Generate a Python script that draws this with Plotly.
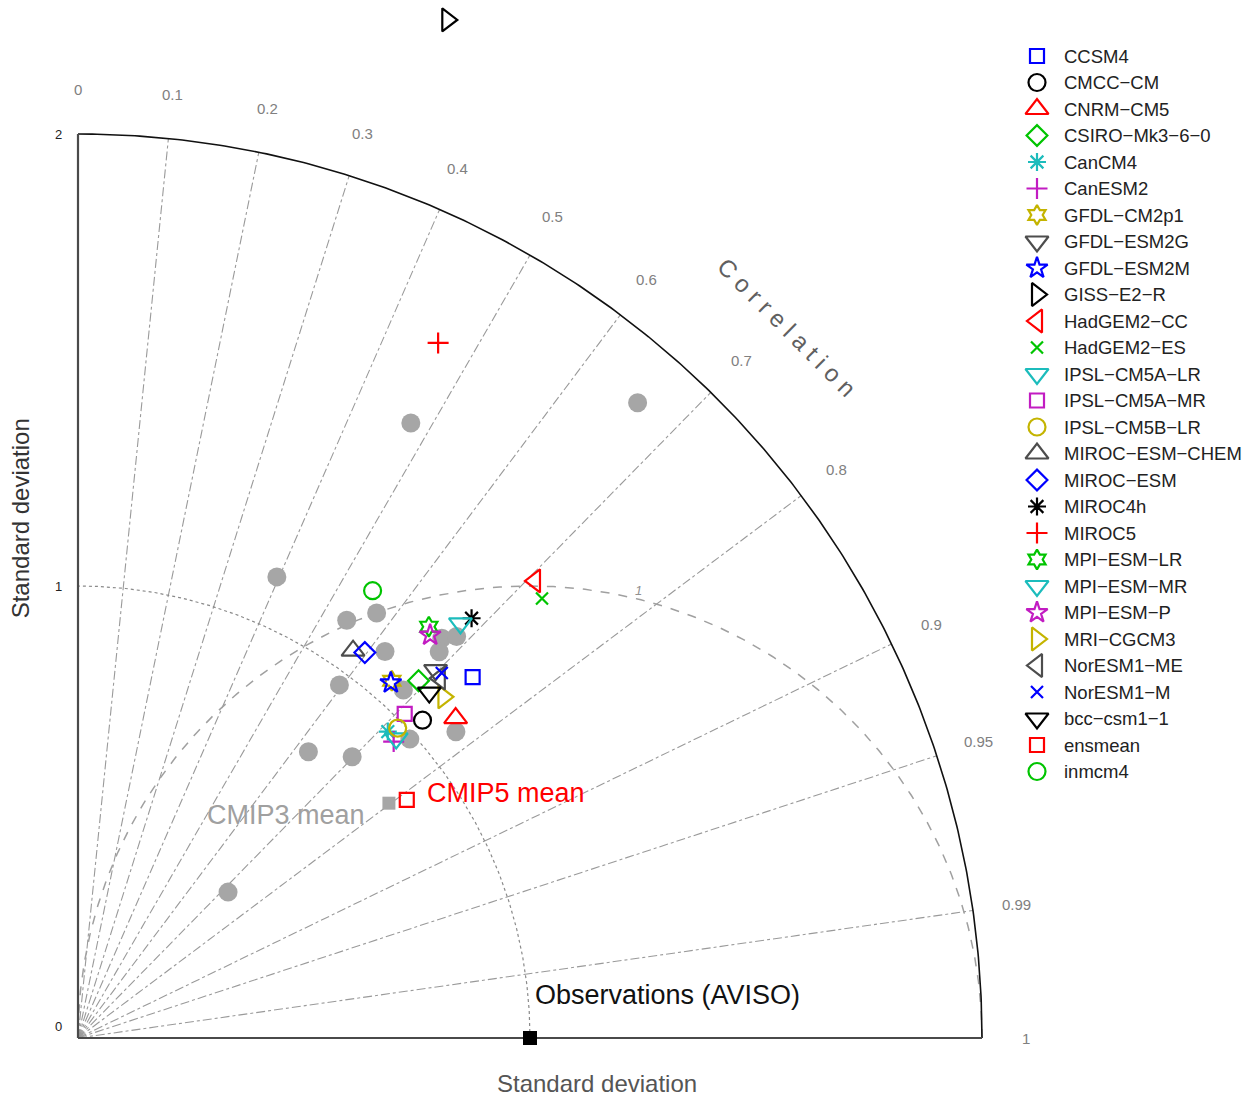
import numpy as np
import plotly.graph_objects as go

# ---------------- data ----------------
models = ["CCSM4", "CMCC−CM", "CNRM−CM5", "CSIRO−Mk3−6−0", "CanCM4", "CanESM2",
          "GFDL−CM2p1", "GFDL−ESM2G", "GFDL−ESM2M", "GISS−E2−R", "HadGEM2−CC",
          "HadGEM2−ES", "IPSL−CM5A−LR", "IPSL−CM5A−MR", "IPSL−CM5B−LR",
          "MIROC−ESM−CHEM", "MIROC−ESM", "MIROC4h", "MIROC5", "MPI−ESM−LR",
          "MPI−ESM−MR", "MPI−ESM−P", "MRI−CGCM3", "NorESM1−ME", "NorESM1−M",
          "bcc−csm1−1", "ensmean", "inmcm4"]
model_std = [1.183, 1.037, 1.095, 1.092, 0.964, 0.958,
             1.052, 1.135, 1.047, 2.396, 1.430,
             1.414, 0.967, 1.018, 0.985,
             1.051, 1.063, 1.273, 1.732, 1.196,
             1.248, 1.184, 1.106, 1.129, 1.140,
             1.090, 0.898, 1.185]
model_corr = [0.738, 0.735, 0.763, 0.690, 0.711, 0.729,
              0.660, 0.697, 0.661, 0.341, 0.707,
              0.726, 0.728, 0.710, 0.718,
              0.579, 0.597, 0.684, 0.460, 0.649,
              0.678, 0.658, 0.731, 0.709, 0.706,
              0.713, 0.810, 0.550]

cmip3_std = [1.873, 1.547, 1.111, 1.099, 1.149, 1.092, 0.972, 1.054,
             1.196, 1.221, 1.170, 1.076, 0.988, 0.813, 0.869, 0.463]
cmip3_corr = [0.661, 0.476, 0.396, 0.541, 0.575, 0.622, 0.595, 0.683,
              0.673, 0.686, 0.683, 0.777, 0.743, 0.627, 0.698, 0.717]
cmip3_mean_std = [0.862]
cmip3_mean_corr = [0.798]

obs_std = [1.0]
obs_corr = [1.0]

corr_ticks = [0, 0.1, 0.2, 0.3, 0.4, 0.5, 0.6, 0.7, 0.8, 0.9, 0.95, 0.99, 1]
corr_tick_labels = ["0", "0.1", "0.2", "0.3", "0.4", "0.5", "0.6", "0.7",
                    "0.8", "0.9", "0.95", "0.99", "1"]
std_ticks = [0, 1, 2]
std_max = 2.0
rms_levels = [1.0]

# ---------------- styles ----------------
BLUE, BLACK, RED, GREEN = "#0000ff", "#000000", "#ff0000", "#00c400"
CYAN, MAG, GOLD, GRAY = "#1cbcbc", "#c21cc2", "#c4b400", "#4d4d4d"
TRI = 20
model_style = [
    ("square-open", BLUE, 14), ("circle-open", BLACK, 17), ("triangle-up-open", RED, TRI),
    ("diamond-open", GREEN, 16), ("asterisk-open", CYAN, 15), ("cross-thin-open", MAG, 15),
    ("hexagram-open", GOLD, 15), ("triangle-down-open", GRAY, TRI), ("star-open", BLUE, 16),
    ("triangle-right-open", BLACK, TRI), ("triangle-left-open", RED, TRI),
    ("x-thin-open", GREEN, 12), ("triangle-down-open", CYAN, TRI), ("square-open", MAG, 14),
    ("circle-open", GOLD, 17), ("triangle-up-open", GRAY, TRI), ("diamond-open", BLUE, 16),
    ("asterisk-open", BLACK, 15), ("cross-thin-open", RED, 15), ("hexagram-open", GREEN, 15),
    ("triangle-down-open", CYAN, TRI), ("star-open", MAG, 16), ("triangle-right-open", GOLD, TRI),
    ("triangle-left-open", GRAY, TRI), ("x-thin-open", BLUE, 12), ("triangle-down-open", BLACK, TRI),
    ("square-open", RED, 14), ("circle-open", GREEN, 17),
]

W, H = 1259, 1097
X0, Y0, S = 78, 1038, 452  # origin pixel and pixels per unit std

def pol2xy(std, corr):
    std = np.asarray(std, float)
    corr = np.asarray(corr, float)
    th = np.arccos(corr)
    return std * np.cos(th), std * np.sin(th)

fig = go.Figure()

# correlation lines
lx, ly = [], []
for c in corr_ticks[1:-1]:
    th = np.arccos(c)
    lx += [0, std_max * np.cos(th), None]
    ly += [0, std_max * np.sin(th), None]
fig.add_trace(go.Scatter(x=lx, y=ly, mode="lines", hoverinfo="skip", showlegend=False,
                         line=dict(color="#9a9a9a", width=1.1, dash="dashdot")))

# std = 1 dotted arc
t = np.linspace(0, np.pi / 2, 300)
fig.add_trace(go.Scatter(x=np.cos(t), y=np.sin(t), mode="lines", hoverinfo="skip",
                         showlegend=False, line=dict(color="#8a8a8a", width=1.2, dash="dot")))

# RMS circles centred on observation
for r in rms_levels:
    tt = np.linspace(0, np.pi, 400)
    fig.add_trace(go.Scatter(x=obs_std[0] + r * np.cos(tt), y=r * np.sin(tt), mode="lines",
                             hoverinfo="skip", showlegend=False,
                             line=dict(color="#a0a0a0", width=1.5, dash="dash")))

# outer arc
fig.add_trace(go.Scatter(x=std_max * np.cos(t), y=std_max * np.sin(t), mode="lines",
                         hoverinfo="skip", showlegend=False,
                         line=dict(color="#111111", width=1.6)))
# axis lines
fig.add_trace(go.Scatter(x=[0, 0, None, 0, std_max], y=[std_max, 0, None, 0, 0], mode="lines",
                         hoverinfo="skip", showlegend=False,
                         line=dict(color="#4a4a4a", width=2.2)))

# CMIP3 models
cx, cy = pol2xy(cmip3_std, cmip3_corr)
fig.add_trace(go.Scatter(x=cx, y=cy, mode="markers", showlegend=False,
                         marker=dict(symbol="circle", size=19, color="#a6a6a6")))
mx, my = pol2xy(cmip3_mean_std, cmip3_mean_corr)
fig.add_trace(go.Scatter(x=mx, y=my, mode="markers", showlegend=False,
                         marker=dict(symbol="square", size=13, color="#a6a6a6")))

# CMIP5 models
px_, py_ = pol2xy(model_std, model_corr)
for i, name in enumerate(models):
    sym, col, sz = model_style[i]
    fig.add_trace(go.Scatter(x=[px_[i]], y=[py_[i]], mode="markers", name=name, showlegend=False,
                             marker=dict(symbol=sym, size=sz, color=col,
                                         line=dict(color=col, width=2.2))))

# observation
ox, oy = pol2xy(obs_std, obs_corr)
fig.add_trace(go.Scatter(x=ox, y=oy, mode="markers", showlegend=False, cliponaxis=False,
                         marker=dict(symbol="square", size=14, color="black")))

# ---- legend drawn on a pixel-space overlay axis ----
leg_y = [56 + 26.5 * i for i in range(len(models))]
for i, name in enumerate(models):
    sym, col, sz = model_style[i]
    fig.add_trace(go.Scatter(x=[1037], y=[leg_y[i]], xaxis="x2", yaxis="y2", mode="markers",
                             showlegend=False, hoverinfo="skip",
                             marker=dict(symbol=sym, size=sz, color=col,
                                         line=dict(color=col, width=2.2))))

annotations = []
for i, name in enumerate(models):
    annotations.append(dict(x=1062, y=leg_y[i], xref="x2", yref="y2", text=name,
                            showarrow=False, xanchor="left", yanchor="middle",
                            font=dict(family="Liberation Sans", size=18.5, color="#222222")))

# correlation tick labels
for c, lab in zip(corr_ticks, corr_tick_labels):
    th = np.arccos(c)
    annotations.append(dict(x=2.098 * np.cos(th), y=2.098 * np.sin(th), text=lab,
                            showarrow=False, xanchor="center", yanchor="middle",
                            font=dict(family="Liberation Sans", size=15, color="#808080")))
# std tick labels
for s in std_ticks:
    annotations.append(dict(x=-0.03, y=s + (0.025 if s == 0 else 0), text=str(s),
                            showarrow=False, xanchor="right", yanchor="middle",
                            font=dict(family="Liberation Sans", size=13, color="#222222")))
# RMS label
annotations.append(dict(x=1.239, y=0.991, text="<i>1</i>", showarrow=False,
                        font=dict(family="Liberation Sans", size=13, color="#909090")))
# titles
annotations.append(dict(x=1.569, y=1.573, text="C o r r e l a t i o n", textangle=45,
                        showarrow=False, font=dict(family="Liberation Sans", size=24,
                                                   color="#606060")))
annotations.append(dict(x=1.148, y=-0.0996, text="Standard deviation", showarrow=False,
                        font=dict(family="Liberation Sans", size=24, color="#555555")))
annotations.append(dict(x=-0.128, y=1.15, text="Standard deviation", textangle=-90,
                        showarrow=False, font=dict(family="Liberation Sans", size=24,
                                                   color="#333333")))
annotations.append(dict(x=1.305, y=0.0951, text="Observations (AVISO)", showarrow=False,
                        font=dict(family="Liberation Sans", size=27, color="#111111")))
annotations.append(dict(x=0.947, y=0.542, text="CMIP5 mean", showarrow=False,
                        font=dict(family="Liberation Sans", size=27, color="#ff0000")))
annotations.append(dict(x=0.460, y=0.493, text="CMIP3 mean", showarrow=False,
                        font=dict(family="Liberation Sans", size=27, color="#a0a0a0")))

ax_common = dict(visible=False, showgrid=False, zeroline=False, fixedrange=True)
fig.update_layout(
    width=W, height=H, autosize=False,
    margin=dict(l=0, r=0, t=0, b=0, pad=0),
    paper_bgcolor="white", plot_bgcolor="white",
    xaxis=dict(range=[-X0 / S, (W - X0) / S], **ax_common),
    yaxis=dict(range=[-(H - Y0) / S, Y0 / S], **ax_common),
    xaxis2=dict(range=[0, W], overlaying="x", **ax_common),
    yaxis2=dict(range=[H, 0], overlaying="y", **ax_common),
    annotations=annotations,
    showlegend=False,
)

fig.write_html("out.html")
